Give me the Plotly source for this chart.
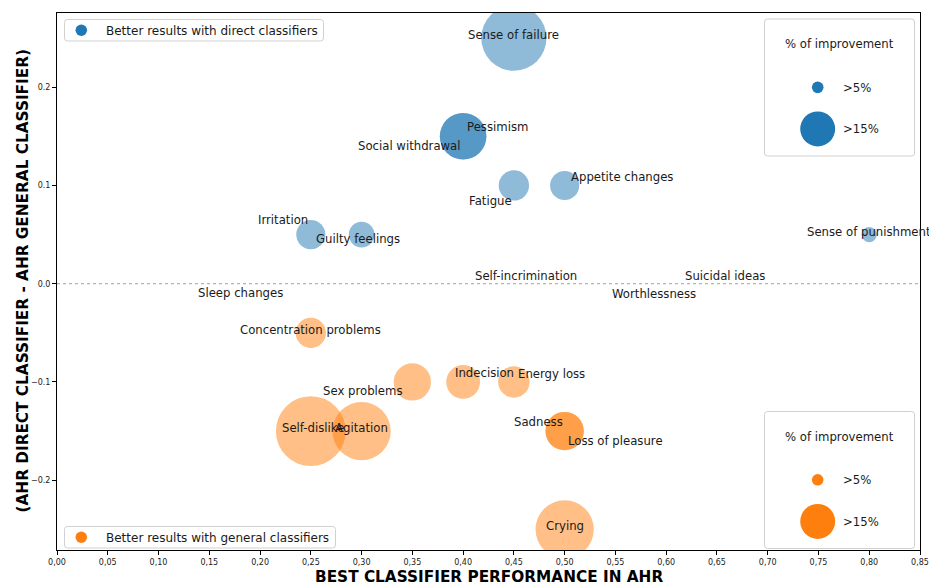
import plotly.graph_objects as go

# ---- data -------------------------------------------------------------
symptoms = [
    "Sense of failure", "Pessimism", "Social withdrawal", "Fatigue",
    "Appetite changes", "Irritation", "Guilty feelings", "Sense of punishment",
    "Self-incrimination", "Suicidal ideas", "Sleep changes", "Worthlessness",
    "Concentration problems", "Sex problems", "Indecision", "Energy loss",
    "Sadness", "Loss of pleasure", "Self-dislike", "Agitation", "Crying",
]
best_performance = [
    0.45, 0.40, 0.40, 0.45,
    0.50, 0.25, 0.30, 0.80,
    0.46, 0.66, 0.18, 0.59,
    0.25, 0.35, 0.40, 0.45,
    0.50, 0.50, 0.25, 0.30, 0.50,
]
ahr_difference = [
    0.25, 0.15, 0.15, 0.10,
    0.10, 0.05, 0.05, 0.05,
    0.0, 0.0, 0.0, 0.0,
    -0.05, -0.10, -0.10, -0.10,
    -0.15, -0.15, -0.15, -0.15, -0.25,
]
improvement_pct = [
    28, 20, 20, 13,
    12.5, 12.5, 11, 6.5,
    0, 0, 0, 0,
    13, 16, 14.5, 13.5,
    16.5, 16.5, 30, 25, 25,
]
x_ticks = [i * 0.05 for i in range(18)]
y_ticks = [-0.2, -0.1, 0.0, 0.1, 0.2]
size_legend = [5, 15]

# ---- styling ------------------------------------------------------------
BLUE = "#1f77b4"
ORANGE = "#ff7f0e"
TEXT = "#1a1a1a"
FONT = "DejaVu Sans"
PX_PER_PCT = 2.33  # bubble diameter in pixels per % of improvement

# label offsets from the bubble centre, in pixels (dx right, dy down)
label_offsets = {
    "Sense of failure": (0, -3), "Pessimism": (34, -9),
    "Social withdrawal": (-54, 10), "Fatigue": (-23, 16),
    "Appetite changes": (57, -8), "Irritation": (-28, -15),
    "Guilty feelings": (-4, 4), "Sense of punishment": (0, -3),
    "Self-incrimination": (2, -8), "Suicidal ideas": (-2, -8),
    "Sleep changes": (1, 9), "Worthlessness": (-2, 10),
    "Concentration problems": (0, -3), "Sex problems": (-50, 9),
    "Indecision": (21, -9), "Energy loss": (38, -8),
    "Sadness": (-26, -9), "Loss of pleasure": (51, 10),
    "Self-dislike": (2, -3), "Agitation": (0, -3), "Crying": (0, -3),
}

W, H = 929, 584
PLOT_L, PLOT_T, PLOT_W, PLOT_H = 57, 13, 863, 537


def px(x):
    return (x - PLOT_L) / PLOT_W


def py(y):
    return (PLOT_T + PLOT_H - y) / PLOT_H


fig = go.Figure()

for sign, color in ((1, BLUE), (-1, ORANGE)):
    idx = [i for i, d in enumerate(ahr_difference) if d * sign > 0]
    fig.add_trace(go.Scatter(
        x=[best_performance[i] for i in idx],
        y=[ahr_difference[i] for i in idx],
        text=[symptoms[i] for i in idx],
        mode="markers",
        marker=dict(
            size=[improvement_pct[i] for i in idx],
            sizemode="diameter",
            sizeref=1 / PX_PER_PCT,
            color=color,
            opacity=0.5,
            line=dict(width=0),
        ),
        hovertemplate="%{text}<extra></extra>",
        showlegend=False,
        cliponaxis=True,
    ))

annotations = []
for name, xv, yv in zip(symptoms, best_performance, ahr_difference):
    dx, dy = label_offsets[name]
    annotations.append(dict(
        x=xv, y=yv, xref="x", yref="y", text=name, showarrow=False,
        xanchor="center", yanchor="middle", xshift=dx, yshift=-dy,
        font=dict(family=FONT, size=11.7, color=TEXT),
    ))

shapes = [dict(
    type="line", xref="paper", yref="y", x0=0, x1=1, y0=0, y1=0,
    line=dict(color="#a0a0a0", width=1, dash="dot"), layer="below",
)]


def rounded_box(x0, y0, x1, y1, r=3):
    pts = [
        ("M", x0 + r, y0), ("L", x1 - r, y0), ("Q", x1, y0, x1, y0 + r),
        ("L", x1, y1 - r), ("Q", x1, y1, x1 - r, y1), ("L", x0 + r, y1),
        ("Q", x0, y1, x0, y1 - r), ("L", x0, y0 + r), ("Q", x0, y0, x0 + r, y0),
    ]
    parts = []
    for p in pts:
        cmd, coords = p[0], p[1:]
        xy = []
        for k in range(0, len(coords), 2):
            xy.append(f"{px(coords[k]):.5f},{py(coords[k + 1]):.5f}")
        parts.append(cmd + " ".join(xy))
    return dict(
        type="path", xref="paper", yref="paper", path=" ".join(parts) + " Z",
        fillcolor="rgba(255,255,255,0.85)",
        line=dict(color="#d0d0d0", width=1), layer="above",
    )


def dot(cx, cy, diameter, color):
    r = diameter / 2
    return dict(
        type="circle", xref="paper", yref="paper",
        xsizemode="pixel", ysizemode="pixel",
        xanchor=px(cx), yanchor=py(cy),
        x0=-r, x1=r, y0=-r, y1=r,
        fillcolor=color, line=dict(width=0), layer="above",
    )


def text_at(cx, cy, txt, size=12, anchor="left"):
    return dict(
        x=px(cx), y=py(cy), xref="paper", yref="paper", text=txt,
        showarrow=False, xanchor=anchor, yanchor="middle",
        font=dict(family=FONT, size=size, color=TEXT),
    )


# group legends (top-left / bottom-left)
for top, color, label in (
    (19.5, BLUE, "Better results with direct classifiers"),
    (526.5, ORANGE, "Better results with general classifiers"),
):
    right = 323.5 if color == BLUE else 335.5
    shapes.append(rounded_box(64.5, top, right, top + 21.5))
    shapes.append(dot(81.3, top + 10.7, 11.5, color))
    annotations.append(text_at(103.5, top + 11.2, label, size=12))

# size legends (top-right / bottom-right)
for top, color in ((19, BLUE), (411.5, ORANGE)):
    shapes.append(rounded_box(764.5, top, 914.5, top + 137))
    annotations.append(text_at(839.5, top + 25.5, "% of improvement",
                               size=11.7, anchor="center"))
    for k, pct in enumerate(size_legend):
        cy = top + 68.3 + k * 41.6
        shapes.append(dot(817.7, cy, pct * PX_PER_PCT, color))
        annotations.append(text_at(841, cy + 0.5, f"&gt;{pct}%", size=11.7))

# axis titles
annotations.append(dict(
    x=0.5, y=0, xref="paper", yref="paper", yanchor="middle", xanchor="center",
    yshift=-27, showarrow=False, text="BEST CLASSIFIER PERFORMANCE IN AHR",
    font=dict(family=FONT, size=15.3, color="#000", weight="bold"),
))
annotations.append(dict(
    x=0, y=0.5, xref="paper", yref="paper", yanchor="middle", xanchor="center",
    xshift=-35, showarrow=False, textangle=-90,
    text="(AHR DIRECT CLASSIFIER - AHR GENERAL CLASSIFIER)",
    font=dict(family=FONT, size=15.3, color="#000", weight="bold"),
))

axis_common = dict(
    showline=True, mirror=True, linecolor="#000", linewidth=1,
    ticks="outside", ticklen=4, tickwidth=1, tickcolor="#000",
    showgrid=False, zeroline=False, automargin=False,
    tickfont=dict(family=FONT, size=8, color=TEXT),
)

fig.update_layout(
    width=W, height=H, autosize=False,
    margin=dict(l=PLOT_L, r=W - PLOT_L - PLOT_W, t=PLOT_T,
                b=H - PLOT_T - PLOT_H, pad=0),
    paper_bgcolor="white", plot_bgcolor="white",
    xaxis=dict(range=[0, 0.85], tickvals=x_ticks,
               ticktext=[f"{v:.2f}".replace(".", ",") for v in x_ticks],
               **axis_common),
    yaxis=dict(range=[-0.271, 0.2755], tickvals=y_ticks,
               ticktext=[f"{v:.1f}".replace("-", "\u2212") for v in y_ticks],
               **axis_common),
    shapes=shapes,
    annotations=annotations,
    showlegend=False,
)

fig.write_html("out.html")
